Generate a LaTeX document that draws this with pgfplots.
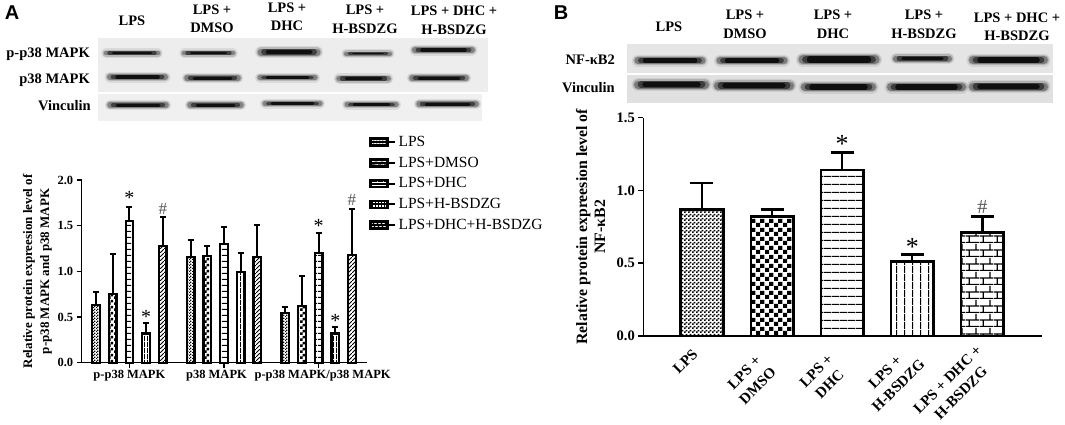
\documentclass[border=0pt]{standalone}
\usepackage{fontspec}
\setmainfont{Liberation Serif}
\newfontfamily\panelfont{Liberation Sans}
\usepackage{pgfplots}
\pgfplotsset{compat=1.18}
\usetikzlibrary{patterns}
\newcommand{\fsz}[2][]{\fontsize{#2pt}{\ifx\relax#1\relax #2\else #1\fi pt}\selectfont}

% fine patterns, panel A
\pgfdeclarepatternformonly{chkA}{\pgfqpoint{0pt}{0pt}}{\pgfqpoint{3pt}{3pt}}{\pgfqpoint{3pt}{3pt}}{
  \pgfpathrectangle{\pgfqpoint{0pt}{0pt}}{\pgfqpoint{1.5pt}{1.5pt}}
  \pgfpathrectangle{\pgfqpoint{1.5pt}{1.5pt}}{\pgfqpoint{1.5pt}{1.5pt}}\pgfusepath{fill}}
\pgfdeclarepatternformonly{chkB}{\pgfqpoint{0pt}{0pt}}{\pgfqpoint{6pt}{6pt}}{\pgfqpoint{6pt}{6pt}}{
  \pgfpathrectangle{\pgfqpoint{0pt}{0pt}}{\pgfqpoint{3pt}{3pt}}
  \pgfpathrectangle{\pgfqpoint{3pt}{3pt}}{\pgfqpoint{3pt}{3pt}}\pgfusepath{fill}}
\pgfdeclarepatternformonly{horA}{\pgfqpoint{0pt}{0pt}}{\pgfqpoint{6pt}{5.5pt}}{\pgfqpoint{6pt}{5.5pt}}{
  \pgfpathrectangle{\pgfqpoint{0pt}{0pt}}{\pgfqpoint{6pt}{1.3pt}}\pgfusepath{fill}}
\pgfdeclarepatternformonly{verA}{\pgfqpoint{0pt}{0pt}}{\pgfqpoint{3pt}{6pt}}{\pgfqpoint{3pt}{6pt}}{
  \pgfpathrectangle{\pgfqpoint{0pt}{0pt}}{\pgfqpoint{1.1pt}{6pt}}\pgfusepath{fill}}
\pgfdeclarepatternformonly{diaA}{\pgfqpoint{0pt}{0pt}}{\pgfqpoint{4pt}{4pt}}{\pgfqpoint{4pt}{4pt}}{
  \pgfsetlinewidth{1.1pt}
  \pgfpathmoveto{\pgfqpoint{-1pt}{-1pt}}\pgfpathlineto{\pgfqpoint{5pt}{5pt}}\pgfusepath{stroke}}
% coarser patterns, panel B
\pgfdeclarepatternformonly{chkC}{\pgfqpoint{0pt}{0pt}}{\pgfqpoint{4pt}{4pt}}{\pgfqpoint{4pt}{4pt}}{
  \pgfpathrectangle{\pgfqpoint{0pt}{0pt}}{\pgfqpoint{2pt}{2pt}}
  \pgfpathrectangle{\pgfqpoint{2pt}{2pt}}{\pgfqpoint{2pt}{2pt}}\pgfusepath{fill}}
\pgfdeclarepatternformonly{chkD}{\pgfqpoint{0pt}{0pt}}{\pgfqpoint{9pt}{9pt}}{\pgfqpoint{9pt}{9pt}}{
  \pgfpathrectangle{\pgfqpoint{0pt}{0pt}}{\pgfqpoint{4.5pt}{4.5pt}}
  \pgfpathrectangle{\pgfqpoint{4.5pt}{4.5pt}}{\pgfqpoint{4.5pt}{4.5pt}}\pgfusepath{fill}}
\pgfdeclarepatternformonly{horB}{\pgfqpoint{0pt}{0pt}}{\pgfqpoint{8pt}{8pt}}{\pgfqpoint{8pt}{8pt}}{
  \pgfpathrectangle{\pgfqpoint{0pt}{0pt}}{\pgfqpoint{8pt}{1.3pt}}\pgfusepath{fill}}
\pgfdeclarepatternformonly{verB}{\pgfqpoint{0pt}{0pt}}{\pgfqpoint{8pt}{8pt}}{\pgfqpoint{8pt}{8pt}}{
  \pgfpathrectangle{\pgfqpoint{0pt}{0pt}}{\pgfqpoint{1.3pt}{8pt}}\pgfusepath{fill}}
\pgfdeclarepatternformonly{brick}{\pgfqpoint{0pt}{0pt}}{\pgfqpoint{14pt}{14pt}}{\pgfqpoint{14pt}{14pt}}{
  \pgfsetlinewidth{1.3pt}
  \pgfpathmoveto{\pgfqpoint{0pt}{0.5pt}}\pgfpathlineto{\pgfqpoint{14pt}{0.5pt}}
  \pgfpathmoveto{\pgfqpoint{0pt}{7.5pt}}\pgfpathlineto{\pgfqpoint{14pt}{7.5pt}}
  \pgfpathmoveto{\pgfqpoint{3.5pt}{0.5pt}}\pgfpathlineto{\pgfqpoint{3.5pt}{7.5pt}}
  \pgfpathmoveto{\pgfqpoint{10.5pt}{7.5pt}}\pgfpathlineto{\pgfqpoint{10.5pt}{14pt}}
  \pgfusepath{stroke}}

% soft western blot band: x1, x2, y, thickness
\newcommand{\band}[4]{
  \draw[line cap=round,black,opacity=.08,line width=#4pt+7pt] (#1,#3) -- (#2,#3);
  \draw[line cap=round,black,opacity=.15,line width=#4pt+4.5pt] (#1,#3) -- (#2,#3);
  \draw[line cap=round,black,opacity=.3,line width=#4pt+2pt] (#1,#3) -- (#2,#3);
  \draw[line cap=round,black,opacity=.5,line width=#4pt+.8pt] (#1+3,#3) -- (#2-3,#3);
  \draw[line cap=round,black,opacity=.75,line width=#4pt-.5pt] (#1+7,#3) -- (#2-7,#3);
}

\begin{document}
\begin{tikzpicture}
\useasboundingbox (0pt,0pt) rectangle (1065pt,-424pt);

\begin{scope}[x=1pt,y=-1pt]
  % panel A blots
  \fill[black!7] (98,38) rectangle (488,92);
  \fill[black!6] (98,94) rectangle (482,121);
  \band{106}{158}{53}{2.5}\band{184}{233}{53}{2.5}\band{261}{317}{52}{5}\band{346}{390}{53.5}{2}\band{415}{472}{50}{4}
  \band{110}{165}{77}{4}\band{187}{238}{78}{3.5}\band{260}{315}{77.5}{3}\band{339}{388}{78.5}{3.5}\band{412}{466}{78}{3.5}
  \band{110}{166}{105}{3.5}\band{190}{241}{105}{3.5}\band{265}{320}{103.5}{3}\band{347}{396}{104.5}{3}\band{419}{476}{104}{3.5}
  % panel B blots
  \fill[black!10] (627,44) rectangle (1053,73);
  \fill[black!12] (627,75) rectangle (1053,103);
  \band{638}{702}{60.5}{5}\band{720}{784}{60.5}{5}\band{803}{875}{59.5}{7}\band{896}{949}{58.5}{4}\band{973}{1044}{60}{6}
  \band{638}{705}{84.5}{6}\band{718}{790}{85.5}{6}\band{805}{872}{87}{6}\band{891}{962}{87}{6}\band{973}{1044}{86.5}{6}

  \node[font=\panelfont\bfseries\fsz{20}] at (12,13) {A};
  \node[font=\panelfont\bfseries\fsz{20}] at (561,13) {B};

  \begin{scope}[every node/.style={font=\bfseries\fsz[18.5]{14.5},align=center,inner sep=0pt}]
    \node at (132,20.5) {LPS};
    \node at (212,19) {LPS +\\DMSO};
    \node at (287,17) {LPS +\\DHC};
    \node at (365,19.5) {LPS +\\H-BSDZG};
    \node at (454,20.5) {LPS + DHC +\\H-BSDZG};
    \node[anchor=east] at (90,54) {p-p38 MAPK};
    \node[anchor=east] at (90,80) {p38 MAPK};
    \node[anchor=east] at (91,106) {Vinculin};

    \node at (669,27) {LPS};
    \node at (745,24.5) {LPS +\\DMSO};
    \node at (833,24.5) {LPS +\\DHC};
    \node at (924,24.5) {LPS +\\H-BSDZG};
    \node at (1017,27) {LPS + DHC +\\H-BSDZG};
    \node[anchor=east] at (615,60) {NF-κB2};
    \node[anchor=east] at (615,88) {Vinculin};
  \end{scope}
\end{scope}

% panel A chart
\begin{axis}[
    name=chartA,
    at={(81.7pt,-362.7pt)}, anchor=south west,
    scale only axis,
    width=285.3pt, height=182.7pt,
    ybar, bar shift=0pt, bar width=7.6pt,
    xmin=-0.86, xmax=16.24,
    ymin=0, ymax=2,
    axis lines=left,
    axis line style={-, line width=1.5pt},
    tick style={black, line width=1.5pt},
    major tick length=5pt,
    tick align=outside,
    xtick={2,7.67,13.34},
    xticklabels={p-p38 MAPK,p38 MAPK\hspace*{15pt},\hspace*{8pt}p-p38 MAPK/p38 MAPK},
    ytick={0,0.5,1,1.5,2},
    yticklabel style={font=\bfseries\fsz{12.5},/pgf/number format/fixed,/pgf/number format/fixed zerofill,/pgf/number format/precision=1,/pgf/number format/assume math mode=true},
    xticklabel style={font=\bfseries\fsz{12.5},inner sep=2pt},
    ylabel={Relative protein expreesion level of\\p-p38 MAPK and p38 MAPK},
    ylabel style={font=\bfseries\fsz[17]{13},align=center,inner sep=0pt},
    ylabel shift=2pt,
    every axis plot/.append style={draw=black,line width=2.2pt},
    error bars/y dir=plus, error bars/y explicit,
    error bars/error bar style={line width=2pt,black},
    error bars/error mark options={rotate=90,mark size=3pt,line width=2pt,black},
    legend image code/.code={\draw[#1,line width=2.5pt] (0pt,-3.6pt) rectangle (17pt,3.6pt);\path (0pt,0pt) -- (25pt,0pt);},
    legend style={draw=none,fill=none,at={(369pt-81.7pt,362.7pt-134pt)},anchor=north west,
      font=\fsz{15.5},row sep=5pt,inner sep=0pt},
    legend cell align=left,
    clip=false,
]
\addplot[pattern=chkA] coordinates {(0,0.63) +- (0,0.14) (5.67,1.157) +- (0,0.183) (11.34,0.54) +- (0,0.07)};
\addlegendentry{LPS}
\addplot[pattern=chkB] coordinates {(1,0.75) +- (0,0.44) (6.67,1.17) +- (0,0.11) (12.34,0.62) +- (0,0.325)};
\addlegendentry{LPS+DMSO}
\addplot[pattern=horA] coordinates {(2,1.55) +- (0,0.15) (7.67,1.30) +- (0,0.19) (13.34,1.20) +- (0,0.22)};
\addlegendentry{LPS+DHC}
\addplot[pattern=verA] coordinates {(3,0.32) +- (0,0.11) (8.67,0.99) +- (0,0.21) (14.34,0.32) +- (0,0.07)};
\addlegendentry{LPS+H-BSDZG}
\addplot[pattern=diaA] coordinates {(4,1.28) +- (0,0.31) (9.67,1.153) +- (0,0.357) (15.34,1.18) +- (0,0.505)};
\addlegendentry{LPS+DHC+H-BSDZG}
\node[font=\fsz{20}] at (axis cs:2,1.80) {*};
\node[font=\fsz{20}] at (axis cs:3,0.50) {*};
\node[font=\fsz{17},text=black!65] at (axis cs:4,1.68) {\#};
\node[font=\fsz{20}] at (axis cs:13.34,1.50) {*};
\node[font=\fsz{20}] at (axis cs:14.34,0.46) {*};
\node[font=\fsz{17},text=black!65] at (axis cs:15.34,1.78) {\#};
\end{axis}

% panel B chart
\begin{axis}[
    name=chartB,
    at={(643.3pt,-336pt)}, anchor=south west,
    scale only axis,
    width=398.4pt, height=218.3pt,
    ybar, bar shift=0pt, bar width=42.5pt,
    xmin=-0.837, xmax=4.846,
    ymin=0, ymax=1.5,
    axis lines=left,
    axis line style={-, line width=1.5pt},
    tick style={black, line width=1.5pt},
    major tick length=5pt,
    tick align=outside,
    xtick={0,1,2,3,4},
    xtick style={draw=none},
    xticklabels={LPS\hspace*{5pt},{LPS +\hspace*{12pt}\\DMSO\hspace*{12pt}},{LPS +\hspace*{12pt}\\DHC\hspace*{12pt}},{LPS +\\H-BSDZG},{LPS + DHC +\\H-BSDZG}},
    ytick={0,0.5,1,1.5},
    yticklabel style={font=\bfseries\fsz{14.5},/pgf/number format/fixed,/pgf/number format/fixed zerofill,/pgf/number format/precision=1,/pgf/number format/assume math mode=true},
    xticklabel style={font=\bfseries\fsz[19]{15},rotate=45,anchor=north east,align=center,yshift=6pt,xshift=-4pt},
    ylabel={Relative protein expreesion level of\\NF-κB2},
    ylabel style={font=\bfseries\fsz[18]{15.8},align=center,inner sep=0pt},
    ylabel shift=8pt,
    every axis plot/.append style={draw=black,line width=2.6pt},
    error bars/y dir=plus, error bars/y explicit,
    error bars/error bar style={line width=2.4pt,black},
    error bars/error mark options={rotate=90,mark size=11.5pt,line width=2.4pt,black},
    clip=false,
]
\addplot[pattern=chkC] coordinates {(0,0.87) +- (0,0.18)};
\addplot[pattern=chkD] coordinates {(1,0.82) +- (0,0.05)};
\addplot[pattern=horB] coordinates {(2,1.14) +- (0,0.12)};
\addplot[pattern=verB] coordinates {(3,0.51) +- (0,0.05)};
\addplot[pattern=brick] coordinates {(4,0.71) +- (0,0.11)};
\node[font=\fsz{26}] at (axis cs:2,1.32) {*};
\node[font=\fsz{26}] at (axis cs:3,0.61) {*};
\node[font=\fsz{20},text=black!65] at (axis cs:4,0.89) {\#};
\end{axis}
\end{tikzpicture}
\end{document}
